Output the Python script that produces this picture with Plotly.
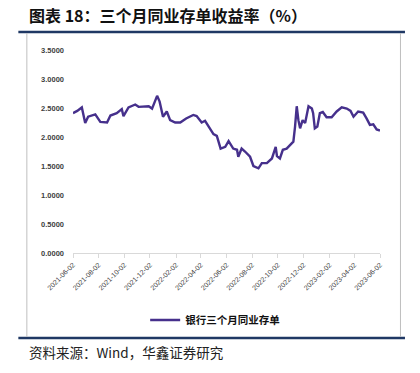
import plotly.graph_objects as go

dates = [
    "2021-06-02", "2021-06-12", "2021-06-23", "2021-07-01", "2021-07-08", "2021-07-25",
    "2021-08-06", "2021-08-22", "2021-08-30", "2021-09-14", "2021-09-26", "2021-09-30",
    "2021-10-12", "2021-10-28", "2021-11-05", "2021-11-29", "2021-12-07", "2021-12-19",
    "2021-12-25", "2022-01-02", "2022-01-11", "2022-01-19", "2022-01-31", "2022-02-12",
    "2022-02-26", "2022-03-15", "2022-03-23", "2022-04-04", "2022-04-12", "2022-04-20",
    "2022-05-02", "2022-05-10", "2022-05-19", "2022-05-30", "2022-06-07", "2022-06-18",
    "2022-06-27", "2022-06-30", "2022-07-08", "2022-07-16", "2022-07-28", "2022-08-05",
    "2022-08-17", "2022-08-25", "2022-09-06", "2022-09-18", "2022-09-27", "2022-09-30",
    "2022-10-07", "2022-10-14", "2022-10-23", "2022-10-31", "2022-11-08", "2022-11-12",
    "2022-11-16", "2022-11-20", "2022-11-24", "2022-11-30", "2022-12-06", "2022-12-14",
    "2022-12-22", "2022-12-25", "2022-12-29", "2023-01-04", "2023-01-10", "2023-01-17",
    "2023-01-26", "2023-02-07", "2023-02-19", "2023-03-03", "2023-03-15", "2023-03-24",
    "2023-03-31", "2023-04-11", "2023-04-23", "2023-05-01", "2023-05-09", "2023-05-17",
    "2023-05-25", "2023-06-02",
]
yields = [
    2.41, 2.45, 2.51, 2.24, 2.35, 2.39,
    2.26, 2.25, 2.37, 2.41, 2.48, 2.36,
    2.51, 2.56, 2.52, 2.53, 2.49, 2.71,
    2.61, 2.35, 2.44, 2.29, 2.25, 2.25,
    2.32, 2.38, 2.36, 2.25, 2.28, 2.18,
    2.05, 2.02, 1.80, 1.83, 1.93, 1.80,
    1.78, 1.66, 1.80, 1.75, 1.66, 1.50,
    1.46, 1.55, 1.55, 1.63, 1.83, 1.67,
    1.63, 1.78, 1.80, 1.86, 1.92, 2.18,
    2.53, 2.29, 2.15, 2.29, 2.24, 2.53,
    2.49, 2.41, 2.15, 2.18, 2.41, 2.43,
    2.34, 2.34, 2.44, 2.51, 2.49, 2.45,
    2.35, 2.44, 2.42, 2.32, 2.21, 2.22,
    2.13, 2.11,
]
tick_vals = [
    "2021-06-02", "2021-08-02", "2021-10-02", "2021-12-02", "2022-02-02", "2022-04-02",
    "2022-06-02", "2022-08-02", "2022-10-02", "2022-12-02", "2023-02-02", "2023-04-02",
    "2023-06-02",
]
y_ticks = [0, 0.5, 1.0, 1.5, 2.0, 2.5, 3.0, 3.5]
series_name = "银行三个月同业存单"
title_text = "图表 18：三个月同业存单收益率（%）"
source_text = "资料来源：Wind，华鑫证券研究"

W, H = 420, 373
L, R, T, B = 72.7, 380.0, 50.0, 253.0


def px(x):
    return (x - L) / (R - L)


def py(y):
    return (B - y) / (B - T)


fig = go.Figure()
fig.add_trace(go.Scatter(
    x=dates, y=yields, mode="lines", name=f"<b>{series_name}</b>",
    line=dict(color="#46308C", width=2.4),
))

fig.update_layout(
    width=W, height=H,
    margin=dict(l=L, r=W - R, t=T, b=H - B, autoexpand=False),
    paper_bgcolor="white", plot_bgcolor="white",
    showlegend=True,
    legend=dict(
        orientation="h", x=px(215), y=py(320), xanchor="center", yanchor="middle",
        font=dict(family="Noto Sans CJK SC", size=10.5, color="#111111"),
        itemwidth=30, bgcolor="rgba(0,0,0,0)",
    ),
    font=dict(family="Liberation Sans", color="#404040"),
)
fig.update_xaxes(
    type="date",
    range=["2021-06-02", "2023-06-02"],
    tickvals=tick_vals, ticktext=tick_vals,
    tickangle=-45, automargin=False,
    tickfont=dict(family="Liberation Sans", size=7, color="#404040"),
    showgrid=False, zeroline=False,
    showline=True, linecolor="#D9D9D9", linewidth=1,
    ticks="outside", ticklen=4, tickcolor="#D9D9D9",
)
fig.update_yaxes(
    range=[0, 3.5], automargin=False,
    tickvals=y_ticks, ticktext=[f"<b>{v:.4f}</b>" for v in y_ticks],
    tickfont=dict(family="Liberation Sans", size=7.5, color="#404040"),
    showgrid=False, zeroline=False, showline=False,
    ticks="", ticklabelstandoff=8,
)

shapes = [
    dict(type="line", xref="paper", yref="paper", x0=px(18), x1=px(405), y0=py(32), y1=py(32),
         line=dict(color="#1F3864", width=2.5)),
    dict(type="line", xref="paper", yref="paper", x0=px(18), x1=px(405), y0=py(338), y1=py(338),
         line=dict(color="#1F3864", width=2.5)),
    dict(type="line", xref="paper", yref="paper", x0=px(26.5), x1=px(26.5), y0=py(33), y1=py(337),
         line=dict(color="#BFBFBF", width=1)),
    dict(type="line", xref="paper", yref="paper", x0=px(400.5), x1=px(400.5), y0=py(33), y1=py(337),
         line=dict(color="#BFBFBF", width=1)),
]
fig.update_layout(shapes=shapes)

fig.add_annotation(
    text=f"<b>{title_text}</b>", xref="paper", yref="paper", x=px(27), y=py(15),
    xanchor="left", yanchor="middle", showarrow=False,
    font=dict(family="Noto Sans CJK SC", size=16, color="#111111"),
)
fig.add_annotation(
    text=source_text, xref="paper", yref="paper", x=px(27), y=py(352),
    xanchor="left", yanchor="middle", showarrow=False,
    font=dict(family="Noto Sans CJK SC", size=13.5, color="#222222"),
)

fig.write_html("out.html", config={"displayModeBar": False},
               post_script="document.body.style.margin='0';")
